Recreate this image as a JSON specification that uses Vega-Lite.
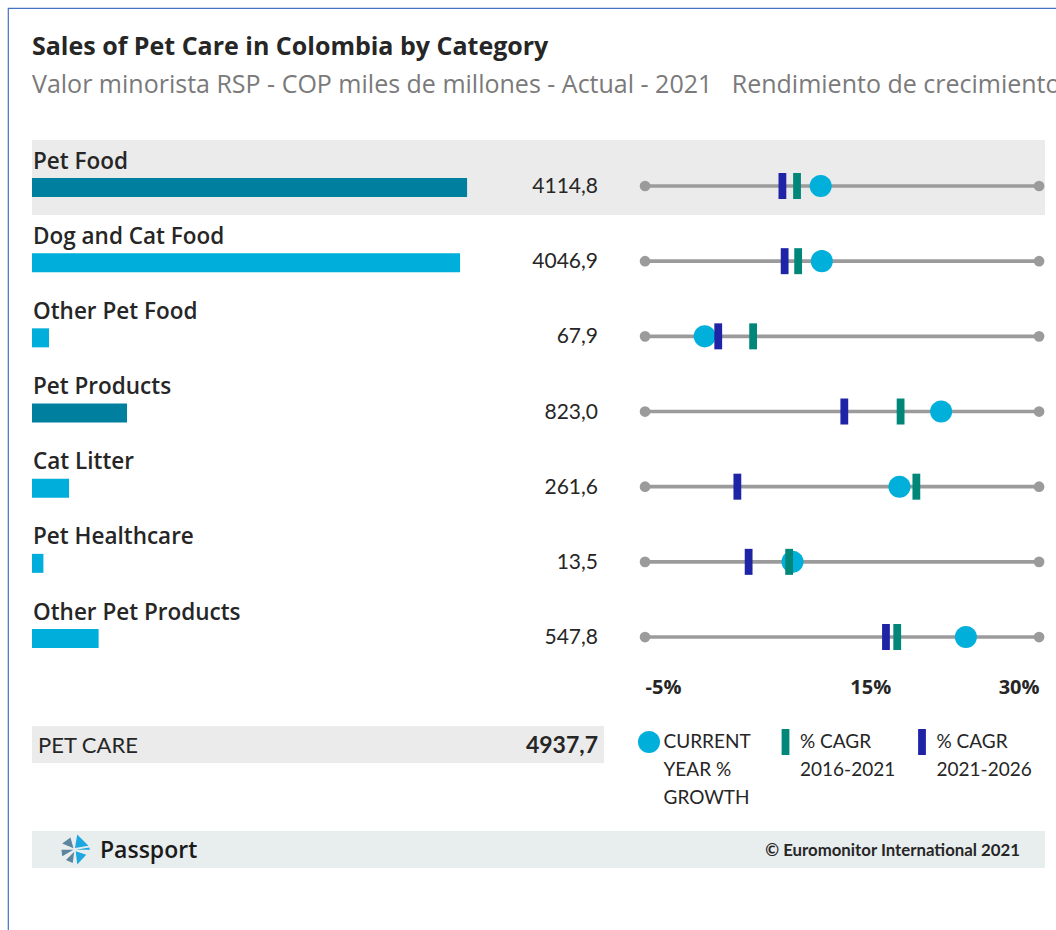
{
  "$schema": "https://vega.github.io/schema/vega-lite/v6.json",
  "width": 1060,
  "height": 940,
  "autosize": {"type": "none"},
  "padding": {"left": 8, "top": 8, "right": 0, "bottom": 0},
  "background": "white",
  "config": {
    "view": {"stroke": "#4472C4", "strokeWidth": 1.2},
    "locale": {"number": {"decimal": ",", "thousands": ".", "grouping": [3], "currency": ["", ""]}},
    "font": "Lato"
  },
  "title": {
    "text": "Sales of Pet Care in Colombia by Category",
    "subtitle": "Valor minorista RSP - COP miles de millones - Actual - 2021\u00a0\u00a0\u00a0Rendimiento de crecimiento",
    "anchor": "start",
    "frame": "group",
    "orient": "top",
    "offset": -90,
    "dx": 24,
    "font": "Open Sans",
    "fontSize": 25,
    "fontWeight": 700,
    "color": "#262626",
    "subtitleFont": "Open Sans",
    "subtitleFontSize": 25,
    "subtitleColor": "#7A7A7A",
    "subtitlePadding": 13
  },
  "datasets": {
    "cats": [
      {"cat": "Pet Food", "row": 1, "sales": 4114.8, "level": "parent"},
      {"cat": "Dog and Cat Food", "row": 2, "sales": 4046.9, "level": "child"},
      {"cat": "Other Pet Food", "row": 3, "sales": 67.9, "level": "child"},
      {"cat": "Pet Products", "row": 4, "sales": 823.0, "level": "parent"},
      {"cat": "Cat Litter", "row": 5, "sales": 261.6, "level": "child"},
      {"cat": "Pet Healthcare", "row": 6, "sales": 13.5, "level": "child"},
      {"cat": "Other Pet Products", "row": 7, "sales": 547.8, "level": "child"}
    ],
    "growth": [
      {"cat": "Pet Food", "row": 1, "measure": "CURRENT YEAR % GROWTH", "value": 10.6},
      {"cat": "Pet Food", "row": 1, "measure": "% CAGR 2016-2021", "value": 8.5},
      {"cat": "Pet Food", "row": 1, "measure": "% CAGR 2021-2026", "value": 7.2},
      {"cat": "Dog and Cat Food", "row": 2, "measure": "CURRENT YEAR % GROWTH", "value": 10.7},
      {"cat": "Dog and Cat Food", "row": 2, "measure": "% CAGR 2016-2021", "value": 8.6},
      {"cat": "Dog and Cat Food", "row": 2, "measure": "% CAGR 2021-2026", "value": 7.4},
      {"cat": "Other Pet Food", "row": 3, "measure": "CURRENT YEAR % GROWTH", "value": 0.3},
      {"cat": "Other Pet Food", "row": 3, "measure": "% CAGR 2016-2021", "value": 4.6},
      {"cat": "Other Pet Food", "row": 3, "measure": "% CAGR 2021-2026", "value": 1.5},
      {"cat": "Pet Products", "row": 4, "measure": "CURRENT YEAR % GROWTH", "value": 21.3},
      {"cat": "Pet Products", "row": 4, "measure": "% CAGR 2016-2021", "value": 17.7},
      {"cat": "Pet Products", "row": 4, "measure": "% CAGR 2021-2026", "value": 12.7},
      {"cat": "Cat Litter", "row": 5, "measure": "CURRENT YEAR % GROWTH", "value": 17.6},
      {"cat": "Cat Litter", "row": 5, "measure": "% CAGR 2016-2021", "value": 19.1},
      {"cat": "Cat Litter", "row": 5, "measure": "% CAGR 2021-2026", "value": 3.2},
      {"cat": "Pet Healthcare", "row": 6, "measure": "CURRENT YEAR % GROWTH", "value": 8.1},
      {"cat": "Pet Healthcare", "row": 6, "measure": "% CAGR 2016-2021", "value": 7.8},
      {"cat": "Pet Healthcare", "row": 6, "measure": "% CAGR 2021-2026", "value": 4.2},
      {"cat": "Other Pet Products", "row": 7, "measure": "CURRENT YEAR % GROWTH", "value": 23.5},
      {"cat": "Other Pet Products", "row": 7, "measure": "% CAGR 2016-2021", "value": 17.4},
      {"cat": "Other Pet Products", "row": 7, "measure": "% CAGR 2021-2026", "value": 16.4}
    ],
    "total": [{"label": "PET CARE", "sales": 4937.7}],
    "footer": [{"source": "© Euromonitor International 2021", "brand": "Passport"}]
  },
  "resolve": {"scale": {"x": "independent", "color": "independent", "shape": "independent"}},
  "layer": [
    {
      "data": {"name": "cats"},
      "transform": [{"filter": "datum.row == 1"}],
      "mark": {"type": "rect", "color": "#EBEBEB", "yOffset": -46, "y2Offset": 29},
      "encoding": {
        "x": {"datum": -97, "type": "quantitative", "scale": {"domain": [-329.3, 9932], "nice": false, "zero": false}, "axis": null},
        "x2": {"datum": 9709},
        "y": {"field": "row", "type": "quantitative", "scale": {"domain": [-1.368, 11.137], "reverse": true, "nice": false, "zero": false}, "axis": null},
        "y2": {"field": "row"}
      }
    },
    {
      "data": {"name": "cats"},
      "mark": {"type": "rect", "yOffset": -8, "y2Offset": 11},
      "encoding": {
        "x": {"field": "sales", "type": "quantitative", "scale": {"domain": [-329.3, 9932], "nice": false, "zero": false}, "axis": null},
        "x2": {"datum": -97},
        "y": {"field": "row", "type": "quantitative", "scale": {"domain": [-1.368, 11.137], "reverse": true, "nice": false, "zero": false}, "axis": null},
        "y2": {"field": "row"},
        "color": {"condition": {"test": "datum.level == 'parent'", "value": "#007F9E"}, "value": "#00AEDB"}
      }
    },
    {
      "data": {"name": "cats"},
      "mark": {"type": "text", "align": "left", "baseline": "middle", "dx": 1, "dy": -24.5, "font": "Open Sans", "fontWeight": 600, "fontSize": 22.5, "color": "#262626"},
      "encoding": {
        "x": {"datum": -97, "type": "quantitative", "scale": {"domain": [-329.3, 9932], "nice": false, "zero": false}, "axis": null},
        "y": {"field": "row", "type": "quantitative", "scale": {"domain": [-1.368, 11.137], "reverse": true, "nice": false, "zero": false}, "axis": null},
        "text": {"field": "cat"}
      }
    },
    {
      "data": {"name": "cats"},
      "mark": {"type": "text", "align": "right", "baseline": "middle", "dy": 1, "font": "Lato", "fontSize": 21, "color": "#262626"},
      "encoding": {
        "x": {"datum": 5382, "type": "quantitative", "scale": {"domain": [-329.3, 9932], "nice": false, "zero": false}, "axis": null},
        "y": {"field": "row", "type": "quantitative", "scale": {"domain": [-1.368, 11.137], "reverse": true, "nice": false, "zero": false}, "axis": null},
        "text": {"field": "sales", "type": "quantitative", "format": ".1f"}
      }
    },
    {
      "data": {"name": "cats"},
      "mark": {"type": "rule", "color": "#9B9B9B", "strokeWidth": 3.7},
      "encoding": {
        "x": {"datum": -5, "type": "quantitative", "scale": {"domain": [-61.59, 32.57], "nice": false, "zero": false}, "axis": null},
        "x2": {"datum": 30},
        "y": {"field": "row", "type": "quantitative", "scale": {"domain": [-1.368, 11.137], "reverse": true, "nice": false, "zero": false}, "axis": null}
      }
    },
    {
      "data": {"name": "cats"},
      "mark": {"type": "point", "filled": true, "size": 115, "color": "#9B9B9B", "opacity": 1},
      "encoding": {
        "x": {"datum": -5, "type": "quantitative", "scale": {"domain": [-61.59, 32.57], "nice": false, "zero": false}, "axis": null},
        "y": {"field": "row", "type": "quantitative", "scale": {"domain": [-1.368, 11.137], "reverse": true, "nice": false, "zero": false}, "axis": null}
      }
    },
    {
      "data": {"name": "cats"},
      "mark": {"type": "point", "filled": true, "size": 115, "color": "#9B9B9B", "opacity": 1},
      "encoding": {
        "x": {"datum": 30, "type": "quantitative", "scale": {"domain": [-61.59, 32.57], "nice": false, "zero": false}, "axis": null},
        "y": {"field": "row", "type": "quantitative", "scale": {"domain": [-1.368, 11.137], "reverse": true, "nice": false, "zero": false}, "axis": null}
      }
    },
    {
      "data": {"name": "growth"},
      "mark": {"type": "point", "filled": true, "size": 676, "opacity": 1, "strokeWidth": 0},
      "encoding": {
        "x": {
          "field": "value", "type": "quantitative",
          "scale": {"domain": [-61.59, 32.57], "nice": false, "zero": false},
          "axis": {"values": [-5, 15, 30], "labelExpr": "datum.value + '%'", "orient": "bottom", "offset": -261, "domain": false, "ticks": false, "grid": false, "labelPadding": 0, "labelBaseline": "middle", "labelAlign": {"expr": "datum.value == -5 ? 'left' : datum.value == 30 ? 'right' : 'center'"}, "labelFont": "Open Sans", "labelFontWeight": "bold", "labelFontSize": 20, "labelColor": "#262626", "title": null}
        },
        "y": {"field": "row", "type": "quantitative", "scale": {"domain": [-1.368, 11.137], "reverse": true, "nice": false, "zero": false}, "axis": null},
        "color": {
          "field": "measure", "type": "nominal",
          "scale": {"domain": ["CURRENT YEAR % GROWTH", "% CAGR 2016-2021", "% CAGR 2021-2026"], "range": ["#00B0DB", "#00877A", "#1F23A6"]},
          "legend": {"orient": "none", "legendX": 628, "legendY": 721, "direction": "horizontal", "columns": 3, "gridAlign": "all", "title": null, "padding": 0, "symbolSize": 676, "symbolStrokeWidth": 0, "labelFont": "Lato", "labelFontSize": 19, "labelColor": "#262626", "labelOffset": 1.5, "columnPadding": 13.5, "labelLimit": 300, "labelExpr": "datum.label == 'CURRENT YEAR % GROWTH' ? ['CURRENT', 'YEAR %', 'GROWTH'] : ['% CAGR', slice(datum.label, 7), '']", "encoding": {"labels": {"lineHeight": {"value": 28}}}}
        },
        "shape": {
          "field": "measure", "type": "nominal",
          "scale": {"domain": ["CURRENT YEAR % GROWTH", "% CAGR 2016-2021", "% CAGR 2021-2026"], "range": ["M0,-0.85A0.85,0.85,0,1,1,0,0.85A0.85,0.85,0,1,1,0,-0.85Z", "M-0.3,-1H0.3V1H-0.3Z", "M-0.3,-1H0.3V1H-0.3Z"]},
          "legend": {"orient": "none", "legendX": 628, "legendY": 721, "direction": "horizontal", "columns": 3, "gridAlign": "all", "title": null, "padding": 0, "symbolSize": 676, "symbolStrokeWidth": 0, "labelFont": "Lato", "labelFontSize": 19, "labelColor": "#262626", "labelOffset": 1.5, "columnPadding": 13.5, "labelLimit": 300, "labelExpr": "datum.label == 'CURRENT YEAR % GROWTH' ? ['CURRENT', 'YEAR %', 'GROWTH'] : ['% CAGR', slice(datum.label, 7), '']", "encoding": {"labels": {"lineHeight": {"value": 28}}}}
        }
      }
    },
    {
      "data": {"name": "total"},
      "mark": {"type": "rect", "color": "#EBEBEB", "yOffset": -18.5, "y2Offset": 18.5},
      "encoding": {
        "x": {"datum": -97, "type": "quantitative", "scale": {"domain": [-329.3, 9932], "nice": false, "zero": false}, "axis": null},
        "x2": {"datum": 5440},
        "y": {"datum": 8.43, "type": "quantitative", "scale": {"domain": [-1.368, 11.137], "reverse": true, "nice": false, "zero": false}, "axis": null},
        "y2": {"datum": 8.43}
      }
    },
    {
      "data": {"name": "total"},
      "mark": {"type": "text", "align": "left", "baseline": "middle", "dy": 1, "font": "Lato", "fontSize": 22, "color": "#262626"},
      "encoding": {
        "x": {"datum": -39, "type": "quantitative", "scale": {"domain": [-329.3, 9932], "nice": false, "zero": false}, "axis": null},
        "y": {"datum": 8.43, "type": "quantitative", "scale": {"domain": [-1.368, 11.137], "reverse": true, "nice": false, "zero": false}, "axis": null},
        "text": {"field": "label"}
      }
    },
    {
      "data": {"name": "total"},
      "mark": {"type": "text", "align": "right", "baseline": "middle", "dy": 1, "font": "Lato", "fontWeight": "bold", "fontSize": 23, "color": "#262626"},
      "encoding": {
        "x": {"datum": 5382, "type": "quantitative", "scale": {"domain": [-329.3, 9932], "nice": false, "zero": false}, "axis": null},
        "y": {"datum": 8.43, "type": "quantitative", "scale": {"domain": [-1.368, 11.137], "reverse": true, "nice": false, "zero": false}, "axis": null},
        "text": {"field": "sales", "type": "quantitative", "format": ".1f"}
      }
    },
    {
      "data": {"name": "footer"},
      "mark": {"type": "rect", "color": "#E8EDEE", "yOffset": -18.5, "y2Offset": 18.5},
      "encoding": {
        "x": {"datum": -97, "type": "quantitative", "scale": {"domain": [-329.3, 9932], "nice": false, "zero": false}, "axis": null},
        "x2": {"datum": 9709},
        "y": {"datum": 9.827, "type": "quantitative", "scale": {"domain": [-1.368, 11.137], "reverse": true, "nice": false, "zero": false}, "axis": null},
        "y2": {"datum": 9.827}
      }
    },
    {
      "data": {"name": "footer"},
      "mark": {"type": "point", "filled": true, "size": 900, "opacity": 1, "strokeWidth": 0, "color": "#1BA7E0", "shape": "M0,-0.1L0.15,-1L0.9,-0.25Z M0.05,0.02L1,0.02L0.95,-0.14Z M0.05,0.12L0.75,0.35L0.15,1Z"},
      "encoding": {
        "x": {"datum": 319, "type": "quantitative", "scale": {"domain": [-329.3, 9932], "nice": false, "zero": false}, "axis": null},
        "y": {"datum": 9.827, "type": "quantitative", "scale": {"domain": [-1.368, 11.137], "reverse": true, "nice": false, "zero": false}, "axis": null}
      }
    },
    {
      "data": {"name": "footer"},
      "mark": {"type": "point", "filled": true, "size": 900, "opacity": 1, "strokeWidth": 0, "color": "#5C85A0", "shape": "M-0.1,-0.08L-0.3,-0.8L-0.85,-0.4Z M-0.1,0.02L-0.9,0.02L-0.85,0.45Z M-0.05,0.15L-0.6,0.7L-0.15,0.9Z"},
      "encoding": {
        "x": {"datum": 319, "type": "quantitative", "scale": {"domain": [-329.3, 9932], "nice": false, "zero": false}, "axis": null},
        "y": {"datum": 9.827, "type": "quantitative", "scale": {"domain": [-1.368, 11.137], "reverse": true, "nice": false, "zero": false}, "axis": null}
      }
    },
    {
      "data": {"name": "footer"},
      "mark": {"type": "text", "align": "left", "baseline": "middle", "dy": 1, "font": "Open Sans", "fontWeight": 600, "fontSize": 23, "color": "#1A1A1A"},
      "encoding": {
        "x": {"datum": 561, "type": "quantitative", "scale": {"domain": [-329.3, 9932], "nice": false, "zero": false}, "axis": null},
        "y": {"datum": 9.827, "type": "quantitative", "scale": {"domain": [-1.368, 11.137], "reverse": true, "nice": false, "zero": false}, "axis": null},
        "text": {"field": "brand"}
      }
    },
    {
      "data": {"name": "footer"},
      "mark": {"type": "text", "align": "right", "baseline": "middle", "dy": 1, "font": "Lato", "fontWeight": "bold", "fontSize": 16.8, "color": "#262626"},
      "encoding": {
        "x": {"datum": 9467, "type": "quantitative", "scale": {"domain": [-329.3, 9932], "nice": false, "zero": false}, "axis": null},
        "y": {"datum": 9.827, "type": "quantitative", "scale": {"domain": [-1.368, 11.137], "reverse": true, "nice": false, "zero": false}, "axis": null},
        "text": {"field": "source"}
      }
    }
  ]
}
